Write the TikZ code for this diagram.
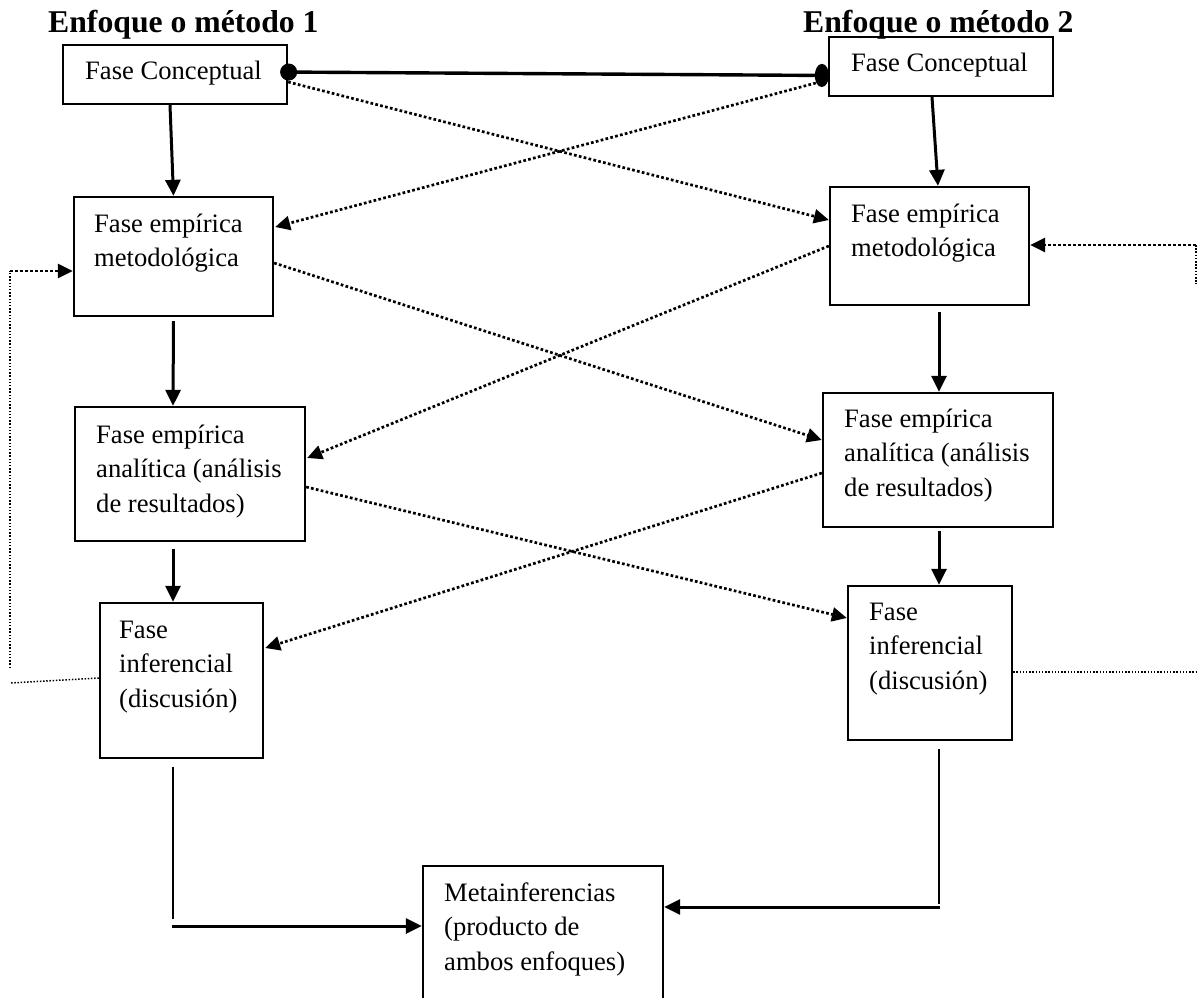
\documentclass[tikz,border=0pt]{standalone}
\usepackage{fontspec}
\setmainfont{Liberation Serif}
\usetikzlibrary{arrows.meta,calc}
\newcommand{\boxlines}[1]{\begin{tabular}[t]{@{}l@{}}#1\end{tabular}}
\begin{document}
\begin{tikzpicture}[x=1pt,y=-1pt,
  box/.style={draw=black,line width=2.3pt,inner sep=0pt,fill=none},
  txt/.style={anchor=base west,inner sep=0pt,font=\fontsize{26.6}{34.7}\selectfont},
  ttl/.style={anchor=base west,inner sep=0pt,font=\fontsize{31.7}{36}\selectfont\bfseries},
  solidarrow/.style={line width=3pt,-{Triangle[length=16pt,width=15pt]}},
  dotarrow/.style={line width=2.7pt,dash pattern=on 2.7pt off 2.3pt,-{Triangle[length=15pt,width=14pt]}},
  thindot/.style={line width=1.5pt,dash pattern=on 1.5pt off 1.7pt},
  thinline/.style={line width=1.8pt},
  thickline/.style={line width=3.4pt}]
\useasboundingbox (0,0) rectangle (1197,998);

% titles
\node[ttl] (t1) at (48,33) {Enfoque o método 1};
\node[ttl] (t2) at (803,33) {Enfoque o método 2};

% boxes
\node[box,minimum width=224pt,minimum height=59pt] (c1) at (175,74.5) {};
\node[box,minimum width=224pt,minimum height=59pt] (c2) at (941,66.5) {};
\node[box,minimum width=199pt,minimum height=119pt] (m1) at (173.5,256.5) {};
\node[box,minimum width=199pt,minimum height=118pt] (m2) at (929.5,246) {};
\node[box,minimum width=230pt,minimum height=134pt] (a1) at (190,474) {};
\node[box,minimum width=230pt,minimum height=134pt] (a2) at (938,460) {};
\node[box,minimum width=163pt,minimum height=155pt] (i1) at (181.5,680.5) {};
\node[box,minimum width=164pt,minimum height=154pt] (i2) at (930,663) {};
\node[box,minimum width=240pt,minimum height=154pt] (meta) at (543,943) {};

% texts
\node[txt] (c1t) at (85,79) {Fase Conceptual};
\node[txt] (c2t) at (851,72) {Fase Conceptual};
\node[txt] (m1t) at (94,232) {\boxlines{Fase empírica\\metodológica}};
\node[txt] (m2t) at (851,222) {\boxlines{Fase empírica\\metodológica}};
\node[txt] (a1t) at (96,443) {\boxlines{Fase empírica\\analítica (análisis\\de resultados)}};
\node[txt] (a2t) at (844,427) {\boxlines{Fase empírica\\analítica (análisis\\de resultados)}};
\node[txt] (i1t) at (119,638) {\boxlines{Fase\\inferencial\\(discusión)}};
\node[txt] (i2t) at (869,620) {\boxlines{Fase\\inferencial\\(discusión)}};
\node[txt] (metat) at (444,901) {\boxlines{Metainferencias\\(producto de\\ambos enfoques)}};

% connection between conceptual phases
\draw[thickline,{Circle[length=17pt,width=17pt]}-{Circle[length=14pt,width=23pt]}]
  ($(c1.east)+(-8,-2.5)$) -- ($(c2.west)+(1,9)$);

% solid vertical arrows
\draw[solidarrow] ($(c1.south)+(-5,0)$) -- (m1.north);
\draw[solidarrow] ($(c2.south)+(-9,0)$) -- ($(m2.north)+(8.5,0)$);
\draw[solidarrow] ($(m1.south)+(0,4)$) -- ($(a1.north)+(-17,0)$);
\draw[solidarrow] ($(m2.south)+(9.5,6)$) -- ($(a2.north)+(1,0)$);
\draw[solidarrow] ($(a1.south)+(-17,7)$) -- ($(i1.north)+(-8.5,0)$);
\draw[solidarrow] ($(a2.south)+(1,3)$) -- ($(i2.north)+(9,0)$);

% dotted cross arrows
\draw[dotarrow] ($(c1.east)+(0,7.5)$) -- ($(m2.west)+(0,-26)$);
\draw[dotarrow] ($(c2.west)+(-12,16.5)$) -- ($(m1.east)+(1,-29.5)$);
\draw[dotarrow] ($(m1.east)+(0,6.5)$) -- ($(a2.west)+(0,-20)$);
\draw[dotarrow] (m2.west) -- ($(a1.east)+(1,-16)$);
\draw[dotarrow] ($(a1.east)+(0,13)$) -- ($(i2.west)+(0,-45)$);
\draw[dotarrow] ($(a2.west)+(0,13)$) -- ($(i1.east)+(1,-32.5)$);

% left feedback loop
\coordinate (lt) at (10,271);
\coordinate (lb) at (10,668);
\coordinate (lh) at (10,683);
\draw[thindot] (lb) -- (lt);
\draw[dotarrow] (lt) -- (m1.west |- lt);
\draw[thindot] ($(i1.west)+(0,-2.5)$) -- (lh);

% right feedback loop
\coordinate (rt) at (1196,245);
\coordinate (rv) at (1196,284);
\coordinate (rh) at (1197,672);
\draw[dotarrow] (rt) -- (m2.east |- rt);
\draw[thindot] (rt) -- (rv);
\draw[thindot] (i2.east |- rh) -- (rh);

% to metainferences
\draw[thinline] ($(i1.south)+(-8.5,8)$) -- ($(i1.south)+(-8.5,160)$);
\draw[solidarrow] ($(meta.west)+(-250,-17)$) -- ($(meta.west)+(0,-17)$);
\draw[thinline] ($(i2.south)+(9,8)$) -- ($(i2.south)+(9,163)$);
\draw[solidarrow] ($(meta.east)+(276,-36)$) -- ($(meta.east)+(0,-36)$);
\end{tikzpicture}
\end{document}
